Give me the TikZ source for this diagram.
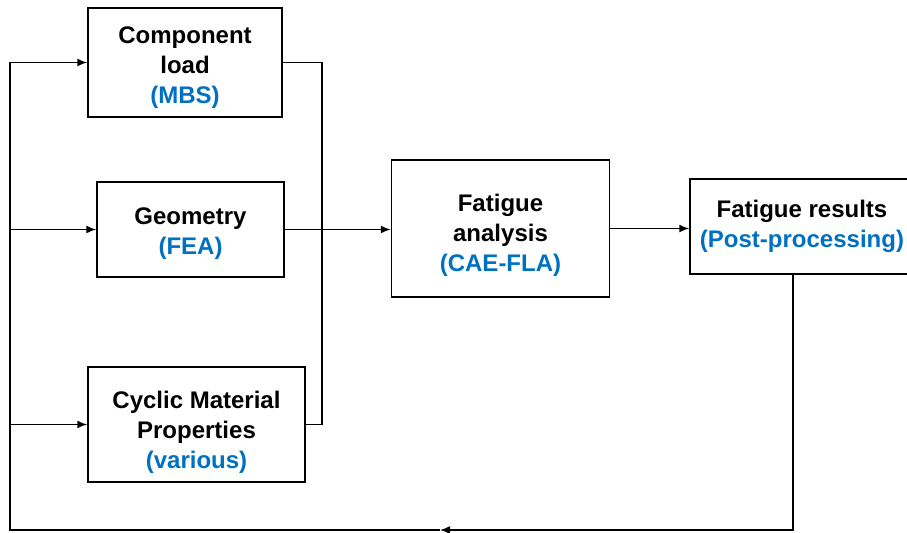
\documentclass[tikz,border=0pt]{standalone}
\usepackage{fontspec}
\setmainfont{Liberation Sans}
\usetikzlibrary{arrows.meta}
\definecolor{toolblue}{HTML}{0070C0}
\newcommand{\tool}[1]{{\color{toolblue}#1}}
\newcommand{\drop}[1]{\rule{0pt}{#1}}

\begin{document}
\begin{tikzpicture}[x=0.5pt,y=-0.5pt,line width=0.75pt,>={Latex[length=5pt,width=4pt]}]
        \useasboundingbox (0,0) rectangle (907,533);
        \begin{scope}[every node/.style={rectangle,draw,line width=0.75pt,align=center,inner sep=0pt,font=\fontsize{12}{15}\selectfont\bfseries}]
        \node[minimum width=97pt,minimum height=54.5pt] (load) at (185,62.5) {\drop{13pt}Component\\load\\\tool{(MBS)}};
        \node[minimum width=93.5pt,minimum height=47.5pt] (geo) at (190.5,229.5) {\drop{12.5pt}Geometry\\\tool{(FEA)}};
        \node[minimum width=108.5pt,minimum height=57.5pt] (cyc) at (196.5,424.5) {\drop{16pt}Cyclic Material\\Properties\\\tool{(various)}};
        \node[minimum width=109pt,minimum height=68.5pt] (fla) at (500.5,228.5) {\drop{15pt}Fatigue\\analysis\\\tool{(CAE-FLA)}};
        \node[minimum width=112pt,minimum height=47.5pt] (res) at (802,226.5) {Fatigue results\\\tool{(Post-processing)}};
        \end{scope}
        \coordinate (left) at (10,530);
        \coordinate (mid) at (440,530);
        \coordinate (right) at (793,530);
        \coordinate (bus) at (322,0);
        \begin{scope}[every edge/.style={draw,->}]
        \path (left |- load.west) edge (load.west);
        \path (left |- geo.west) edge (geo.west);
        \path (left |- cyc.west) edge (cyc.west);
        \path (geo.east) edge (geo.east -| fla.west);
        \path (fla.east) edge (fla.east -| res.west);
        \end{scope}
        \draw (load.east) -- (load.east -| bus) -- (cyc.east -| bus) -- (cyc.east);
        \draw[->] (res.south -| right) -- (right) -- (mid);
        \draw (mid) -- (left) -- (left |- load.west);
        \end{tikzpicture}
\end{document}
